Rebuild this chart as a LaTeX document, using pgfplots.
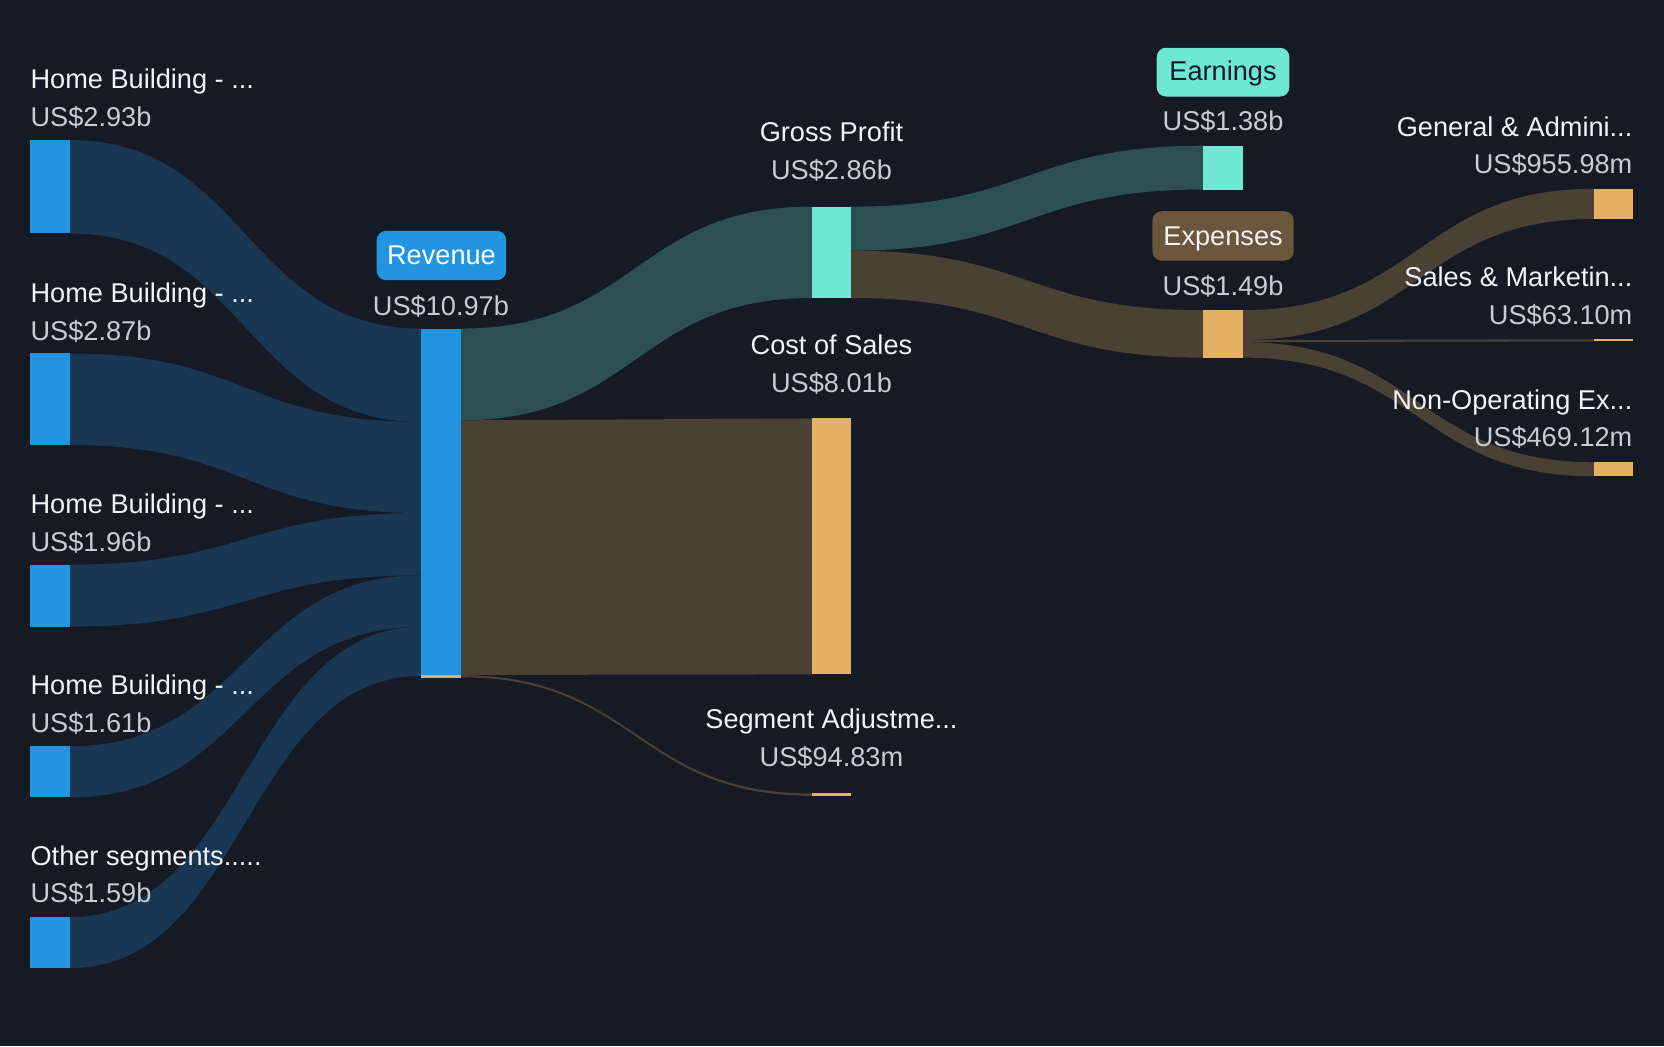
\documentclass[border=0pt]{standalone}
\usepackage{pgfplots}
\pgfplotsset{compat=1.18}
\usepackage{fontspec}
\setmainfont{Liberation Sans}
\definecolor{bg}{HTML}{151A24}
\definecolor{bnode}{HTML}{2394DF}
\definecolor{bflow}{HTML}{193753}
\definecolor{tnode}{HTML}{6EE8D5}
\definecolor{tflow}{HTML}{2C4F51}
\definecolor{onode}{HTML}{E4B062}
\definecolor{oflow}{HTML}{4A4034}
\definecolor{expbadge}{HTML}{6B563B}
\definecolor{labc}{HTML}{F2F4F7}
\definecolor{valc}{HTML}{C9CCD2}
\newcommand\lab{\fontsize{6.4pt}{7pt}\selectfont}
% x0 t0 b0 x1 t1 b1 xm color
\newcommand{\flow}[8]{%
  \fill[#8] (axis cs:#1,#2) .. controls (axis cs:#7,#2) and (axis cs:#7,#5) .. (axis cs:#4,#5)
    -- (axis cs:#4,#6) .. controls (axis cs:#7,#6) and (axis cs:#7,#3) .. (axis cs:#1,#3) -- cycle;}
\newcommand{\nodebar}[5]{% x0 x1 y0 y1 color
  \addplot[fill=#5, draw=none] coordinates {(#1,#3) (#2,#3) (#2,#4) (#1,#4)} -- cycle;}
\begin{document}
\begin{tikzpicture}
\begin{axis}[scale only axis, width=392pt, height=246.5pt,
  xmin=0, xmax=1568, ymin=0, ymax=986, y dir=reverse,
  hide axis, clip=false]
\fill[bg] (axis cs:0,0) rectangle (axis cs:1568,986);
% segment flows into revenue
\flow{66}{132}{220}{397}{309.6}{397.6}{231.5}{bflow}
\flow{66}{333.1}{419.3}{397}{397.6}{483.4}{231.5}{bflow}
\flow{66}{532}{590.4}{397}{483.4}{542.1}{231.5}{bflow}
\flow{66}{703.1}{751.4}{397}{542.1}{590.7}{231.5}{bflow}
\flow{66}{864.2}{912.2}{397}{590.7}{637}{231.5}{bflow}
% revenue out
\flow{434}{309.6}{396.1}{765}{194.7}{280.8}{599.5}{tflow}
\flow{434}{396.1}{636}{765}{394.3}{635.5}{599.5}{oflow}
\flow{434}{636.2}{638.2}{765}{747.7}{749.9}{599.5}{oflow}
% gross profit out
\flow{802}{194.7}{236.2}{1134}{137.3}{178.6}{968}{tflow}
\flow{802}{236.2}{280.8}{1134}{292.3}{337}{968}{oflow}
% expenses out
\flow{1171}{292.3}{320.4}{1502}{177.9}{206.3}{1336.5}{oflow}
\flow{1171}{320.4}{322.4}{1502}{319.7}{321.6}{1336.5}{oflow}
\flow{1171}{322.4}{337}{1502}{435.6}{448.8}{1336.5}{oflow}
% nodes
\nodebar{28}{66}{132}{220}{bnode}
\nodebar{28}{66}{333.1}{419.3}{bnode}
\nodebar{28}{66}{532}{590.4}{bnode}
\nodebar{28}{66}{703.1}{751.4}{bnode}
\nodebar{28}{66}{864.2}{912.2}{bnode}
\nodebar{397}{434}{309.6}{636}{bnode}
\nodebar{397}{434}{636}{638.6}{onode}
\nodebar{765}{802}{194.7}{280.8}{tnode}
\nodebar{765}{802}{394.3}{635.5}{onode}
\nodebar{765}{802}{747.5}{750.2}{onode}
\nodebar{1134}{1171}{137.3}{178.6}{tnode}
\nodebar{1134}{1171}{292.3}{337}{onode}
\nodebar{1502}{1539}{177.9}{206.3}{onode}
\nodebar{1502}{1539}{319.7}{321.6}{onode}
\nodebar{1502}{1539}{435.6}{448.8}{onode}
% badges
\fill[bnode, rounded corners=2.2pt] (axis cs:355,217.5) rectangle (axis cs:477,264);
\fill[tnode, rounded corners=2.2pt] (axis cs:1090,45) rectangle (axis cs:1215,91);
\fill[expbadge, rounded corners=2.2pt] (axis cs:1086,199) rectangle (axis cs:1219,245.6);
\node[anchor=base, font=\lab, text=white] at (axis cs:416,249) {Revenue};
\node[anchor=base, font=\lab, text=bg] at (axis cs:1152.5,76) {Earnings};
\node[anchor=base, font=\lab, text=labc] at (axis cs:1152.5,231) {Expenses};
% left labels
\node[anchor=base west, font=\lab, text=labc, inner sep=0pt] at (axis cs:28,83.3) {Home Building - ...};
\node[anchor=base west, font=\lab, text=valc, inner sep=0pt] at (axis cs:28,118.8) {US\$2.93b};
\node[anchor=base west, font=\lab, text=labc, inner sep=0pt] at (axis cs:28,285) {Home Building - ...};
\node[anchor=base west, font=\lab, text=valc, inner sep=0pt] at (axis cs:28,320.6) {US\$2.87b};
\node[anchor=base west, font=\lab, text=labc, inner sep=0pt] at (axis cs:28,483.4) {Home Building - ...};
\node[anchor=base west, font=\lab, text=valc, inner sep=0pt] at (axis cs:28,519.3) {US\$1.96b};
\node[anchor=base west, font=\lab, text=labc, inner sep=0pt] at (axis cs:28,654.5) {Home Building - ...};
\node[anchor=base west, font=\lab, text=valc, inner sep=0pt] at (axis cs:28,690.4) {US\$1.61b};
\node[anchor=base west, font=\lab, text=labc, inner sep=0pt] at (axis cs:28,815.5) {Other segments.....};
\node[anchor=base west, font=\lab, text=valc, inner sep=0pt] at (axis cs:28,850.8) {US\$1.59b};
% middle labels
\node[anchor=base, font=\lab, text=valc, inner sep=0pt] at (axis cs:415.5,297) {US\$10.97b};
\node[anchor=base, font=\lab, text=labc, inner sep=0pt] at (axis cs:783.5,133.3) {Gross Profit};
\node[anchor=base, font=\lab, text=valc, inner sep=0pt] at (axis cs:783.5,169.4) {US\$2.86b};
\node[anchor=base, font=\lab, text=labc, inner sep=0pt] at (axis cs:783.5,333.6) {Cost of Sales};
\node[anchor=base, font=\lab, text=valc, inner sep=0pt] at (axis cs:783.5,369.7) {US\$8.01b};
\node[anchor=base, font=\lab, text=labc, inner sep=0pt] at (axis cs:783.5,686.4) {Segment Adjustme...};
\node[anchor=base, font=\lab, text=valc, inner sep=0pt] at (axis cs:783.5,722.6) {US\$94.83m};
\node[anchor=base, font=\lab, text=valc, inner sep=0pt] at (axis cs:1152.5,122.8) {US\$1.38b};
\node[anchor=base, font=\lab, text=valc, inner sep=0pt] at (axis cs:1152.5,278.7) {US\$1.49b};
% right labels
\node[anchor=base east, font=\lab, text=labc, inner sep=0pt] at (axis cs:1539,128.5) {General \& Admini...};
\node[anchor=base east, font=\lab, text=valc, inner sep=0pt] at (axis cs:1539,163.8) {US\$955.98m};
\node[anchor=base east, font=\lab, text=labc, inner sep=0pt] at (axis cs:1539,270.2) {Sales \& Marketin...};
\node[anchor=base east, font=\lab, text=valc, inner sep=0pt] at (axis cs:1539,305.5) {US\$63.10m};
\node[anchor=base east, font=\lab, text=labc, inner sep=0pt] at (axis cs:1539,385.8) {Non-Operating Ex...};
\node[anchor=base east, font=\lab, text=valc, inner sep=0pt] at (axis cs:1539,420.5) {US\$469.12m};
\end{axis}
\end{tikzpicture}
\end{document}
